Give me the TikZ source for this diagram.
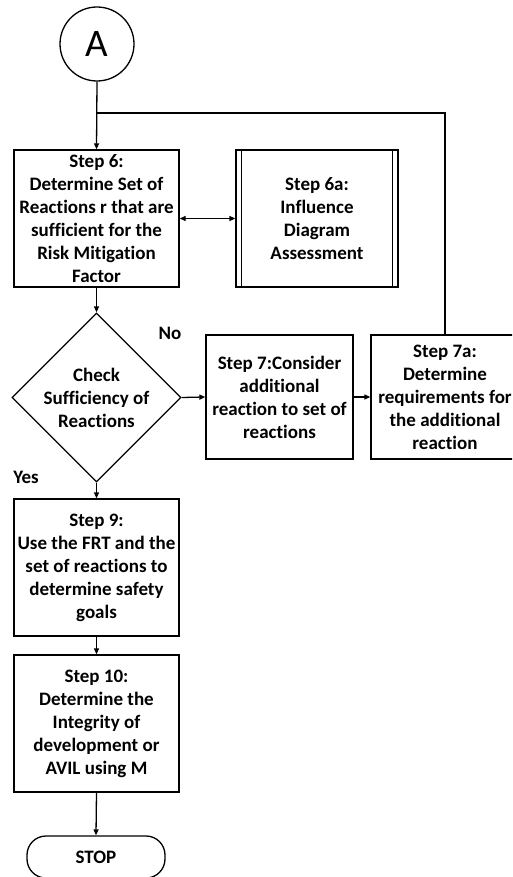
\documentclass[tikz,border=0pt]{standalone}
\usepackage{fontspec}
\setmainfont{Carlito}[Ligatures=NoCommon]
\usetikzlibrary{shapes.geometric,arrows.meta}

\tikzset{
  base/.style={line width=1.3pt},
  txt/.style={font=\fontsize{19}{23}\selectfont\bfseries, align=center, inner sep=0pt},
  stepbox/.style={base, draw, txt, minimum width=#1, minimum height=137pt},
  stepbox/.default=165pt,
  flow/.style={base, -{Triangle[length=6pt,width=5pt]}},
  both/.style={base, {Triangle[length=6pt,width=5pt]}-{Triangle[length=6pt,width=5pt]}},
}

\begin{document}
\begin{tikzpicture}[x=1pt, y=-1pt]
  \useasboundingbox (0,0) rectangle (512,877);
  \clip (0,0) rectangle (512,877);
  \fill[white] (0,0) rectangle (512,877);

  % connector A
  \node[base, draw, circle, minimum size=74pt, inner sep=0pt,
        font=\fontsize{39}{40}\selectfont] (A) at (97,44) {A};

  % main column
  \node[stepbox] (s6) at (96.5,218.5)
    {Step 6:\\Determine Set of\\Reactions r that are\\sufficient for the\\Risk Mitigation\\Factor};
  \node[stepbox=162pt] (s6a) at (317,218.5)
    {Step 6a:\\Influence\\Diagram\\Assessment};
  \draw[base] ([xshift=6pt]s6a.north west) -- ([xshift=6pt]s6a.south west);
  \draw[base] ([xshift=-6pt]s6a.north east) -- ([xshift=-6pt]s6a.south east);

  \node[base, draw, diamond, aspect=1, minimum width=169pt, minimum height=169pt,
        inner sep=0pt] (chk) at (96.5,397.5) {};
  \node[txt] (chktxt) at (chk.center) {Check\\Sufficiency of\\Reactions};

  \node[stepbox=147pt, minimum height=124pt] (s7) at (279.5,397)
    {Step 7:Consider\\additional\\reaction to set of\\reactions};
  \node[stepbox=148pt, minimum height=124pt] (s7a) at (445,397)
    {Step 7a:\\Determine\\requirements for\\the additional\\reaction};

  \node[stepbox] (s9) at (96.5,567.5)
    {Step 9:\\Use the FRT and the\\set of reactions to\\determine safety\\goals};
  \node[stepbox] (s10) at (96.5,723.5)
    {Step 10:\\Determine the\\Integrity of\\development or\\AVIL using M};

  \node[base, draw, txt, rounded corners=19pt, minimum width=138pt,
        minimum height=42pt] (stop) at (96,857) {STOP};

  % branch labels
  \node[txt] (no) at (170,333) {No};
  \node[txt] (yes) at (26,477) {Yes};

  % connectors
  \coordinate (j) at (97,113);
  \draw[flow] (A.south) -- (s6.north);
  \draw[base] (s7a.north) |- (j);
  \draw[both] (s6.east) -- (s6a.west);
  \draw[flow] (s6.south) -- (chk.north);
  \draw[flow] (chk.east) -- (s7.west);
  \draw[flow] (s7.east) -- (s7a.west);
  \draw[flow] (chk.south) -- (s9.north);
  \draw[flow] (s9.south) -- (s10.north);
  \draw[flow] (s10.south) -- (stop.north);
\end{tikzpicture}
\end{document}
